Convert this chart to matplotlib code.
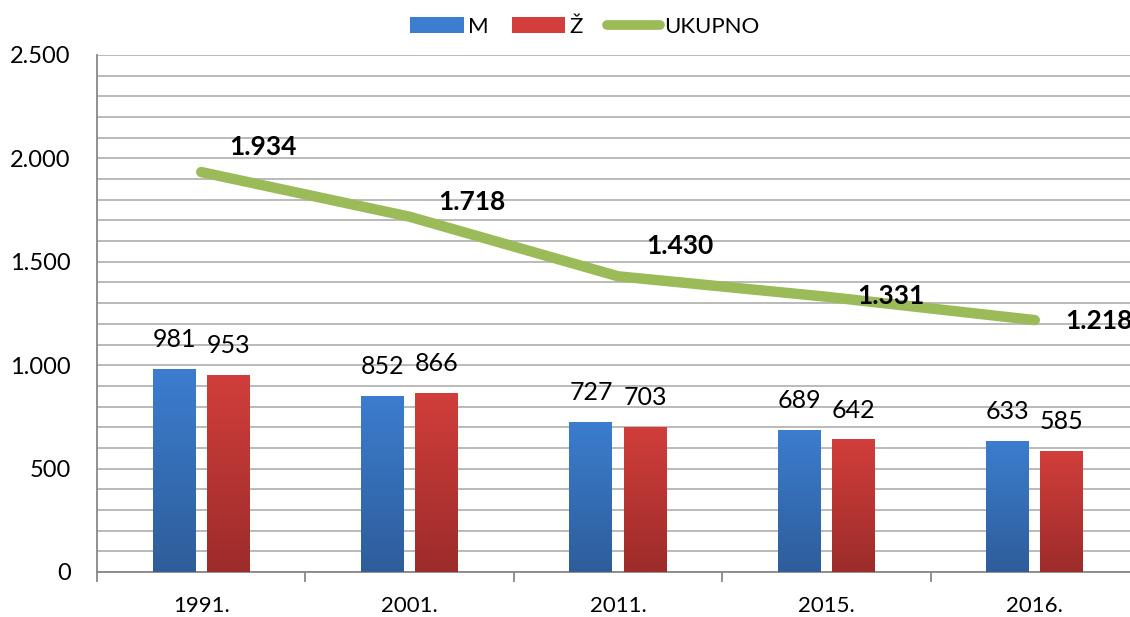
import matplotlib.pyplot as plt
import numpy as np
from matplotlib.colors import LinearSegmentedColormap
from matplotlib.lines import Line2D
from matplotlib.patches import Patch

plt.rcParams["font.family"] = ["Lato", "DejaVu Sans"]

years = ["1991.", "2001.", "2011.", "2015.", "2016."]
muski = [981, 852, 727, 689, 633]
zene = [953, 866, 703, 642, 585]
ukupno = [1934, 1718, 1430, 1331, 1218]

# label offsets (pixels) for the total line labels
total_offsets = [(62, 25), (62, 15), (62, 30), (64, 1), (64, -1)]

BLUE_TOP, BLUE_BOT = "#3c7dcf", "#2e5d9a"
RED_TOP, RED_BOT = "#d13e3b", "#9c2c2a"
GREEN = "#9bbb59"

fig = plt.figure(figsize=(11.3, 6.17), dpi=100)
ax = fig.add_axes([97 / 1130, 1 - 572 / 617, 1042 / 1130, 517 / 617])

x = np.arange(len(years))
width = 0.206
offset = 0.13


def gradient_bars(xs, values, top, bottom):
    cmap = LinearSegmentedColormap.from_list("g", [bottom, top])
    bars = ax.bar(xs, values, width, color="none", edgecolor="none", zorder=3)
    grad = np.linspace(0, 1, 256).reshape(-1, 1)
    for b in bars:
        x0, y0 = b.get_x(), b.get_y()
        im = ax.imshow(grad, cmap=cmap, origin="lower", aspect="auto",
                       extent=[x0, x0 + b.get_width(), y0, y0 + b.get_height()],
                       zorder=3)
        im.set_clip_path(b)
    return bars


gradient_bars(x - offset, muski, BLUE_TOP, BLUE_BOT)
gradient_bars(x + offset, zene, RED_TOP, RED_BOT)

for xs, vals in [(x - offset, muski), (x + offset, zene)]:
    for xi, v in zip(xs, vals):
        ax.annotate(str(v), (xi, v), xytext=(0, 21), textcoords="offset points",
                    ha="center", va="center", fontsize=18, zorder=5)

ax.plot(x, ukupno, color=GREEN, lw=7.5, solid_capstyle="round",
        solid_joinstyle="round", zorder=4)
for xi, v, (dx, dy) in zip(x, ukupno, total_offsets):
    label = f"{v:,}".replace(",", ".")
    ax.annotate(label, (xi, v), xytext=(dx * 0.72, dy * 0.72),
                textcoords="offset points", ha="center", va="center",
                fontsize=19, fontweight="bold", zorder=5,
                annotation_clip=False)

ax.set_xlim(-0.5, len(years) - 0.5)
ax.set_ylim(0, 2500)
ax.set_yticks(np.arange(0, 2501, 500))
ax.set_yticklabels([f"{v:,}".replace(",", ".") for v in range(0, 2501, 500)],
                   fontsize=17)
ax.set_yticks(np.arange(0, 2501, 100), minor=True)
ax.tick_params(axis="y", which="both", length=0, pad=19)
ax.grid(axis="y", which="both", color="#b4b4b4", lw=1.3, zorder=0)
ax.set_axisbelow(True)

ax.set_xticks(x)
ax.set_xticklabels(years, fontsize=16)
ax.set_xticks(np.arange(-0.5, len(years)), minor=True)
ax.tick_params(axis="x", which="major", length=0, pad=17)
ax.tick_params(axis="x", which="minor", length=7, color="#888888", width=1.3)

for s in ["top", "right"]:
    ax.spines[s].set_visible(False)
for s in ["left", "bottom"]:
    ax.spines[s].set_color("#888888")
    ax.spines[s].set_linewidth(1.3)

handles = [
    Patch(facecolor=BLUE_TOP, edgecolor="none"),
    Patch(facecolor=RED_TOP, edgecolor="none"),
    Line2D([0], [0], color=GREEN, lw=7, solid_capstyle="round"),
]
fig.legend(handles, ["M", "Ž", "UKUPNO"], loc="center",
           bbox_to_anchor=(585 / 1130, 1 - 27 / 617), ncol=3, frameon=False,
           fontsize=16, handlelength=2.4, handletextpad=0.2, columnspacing=1.05)

fig.savefig("out.png", dpi=100)
